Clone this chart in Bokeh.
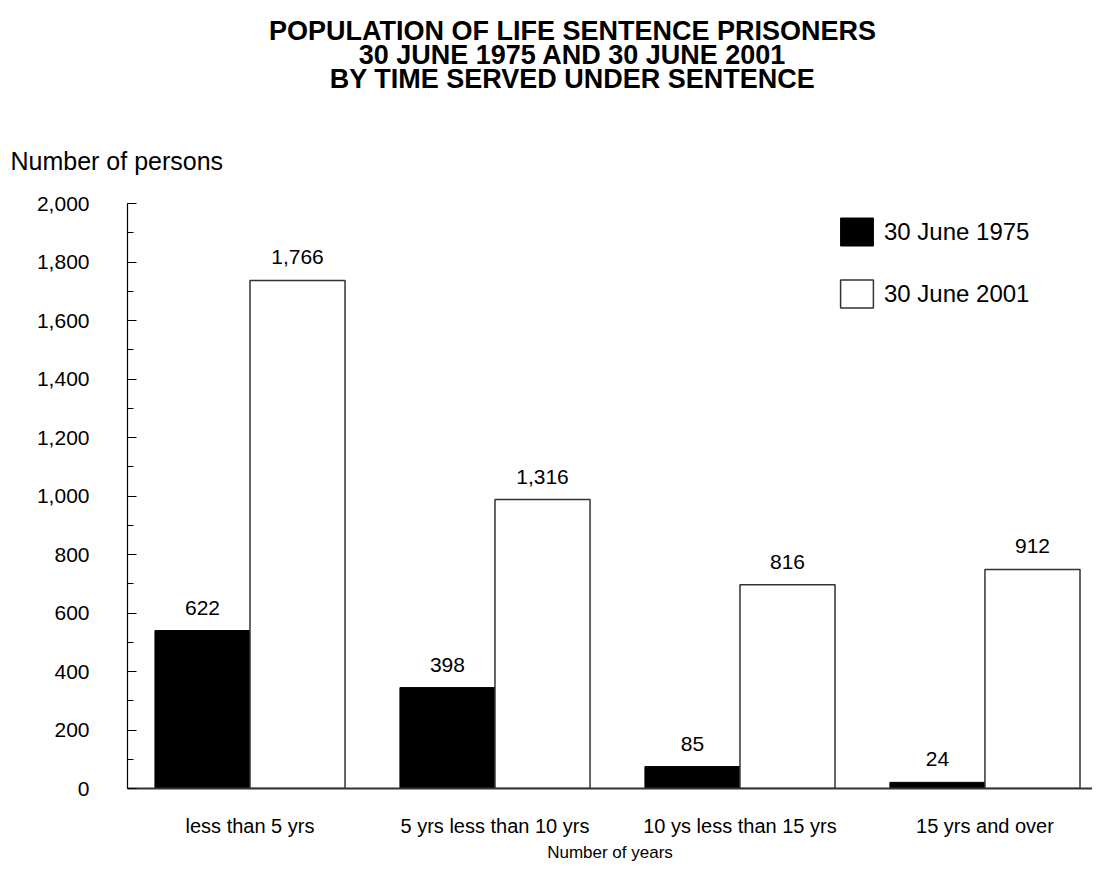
from bokeh.plotting import figure
from bokeh.layouts import column
from bokeh.models import (Range1d, SingleIntervalTicker, FixedTicker, NumeralTickFormatter,
                          Legend, LegendItem, ColumnDataSource)
from bokeh.core.properties import value
from bokeh.embed import file_html
from bokeh.resources import INLINE

# ---- data ----
categories = ["less than 5 yrs", "5 yrs less than 10 yrs", "10 ys less than 15 yrs", "15 yrs and over"]
series_names = ["30 June 1975", "30 June 2001"]
# bar heights as drawn in the picture (read against the axis)
heights_1975 = [540, 345, 75, 21]
heights_2001 = [1737, 988, 697, 749]
# values printed above the bars
labels_1975 = ["622", "398", "85", "24"]
labels_2001 = ["1,766", "1,316", "816", "912"]
title_lines = ["POPULATION OF LIFE SENTENCE PRISONERS",
               "30 JUNE 1975 AND 30 JUNE 2001",
               "BY TIME SERVED UNDER SENTENCE"]
y_title = "Number of persons"
x_title = "Number of years"

FONT = "Liberation Sans"
W = 1092
HEAD_H = 188
MAIN_H = 866 - HEAD_H

# ---- heading strip (title + y-axis caption), a figure whose frame is its pixel grid ----
head = figure(width=W, height=HEAD_H, output_backend="svg", toolbar_location=None,
              x_range=Range1d(0, W), y_range=Range1d(HEAD_H, 0),
              x_axis_type=None, y_axis_type=None, min_border=0)
head.frame_align = False
head.outline_line_color = None
head.background_fill_color = "white"
head.border_fill_color = "white"
head.text(x=[572] * 3, y=[30, 54, 78], text=title_lines, text_align="center",
          text_baseline="middle", text_font=value(FONT), text_font_size="27px",
          text_font_style="bold", text_color="black")
head.text(x=[10], y=[160], text=[y_title], text_align="left", text_baseline="middle",
          text_font=value(FONT), text_font_size="25px", text_color="black")

# ---- main chart ----
centers = [i + 0.5 for i in range(len(categories))]
bw = 0.388
x75 = [c - bw / 2 for c in centers]
x01 = [c + bw / 2 for c in centers]

src75 = ColumnDataSource(dict(x=x75, top=heights_1975, lab=labels_1975))
src01 = ColumnDataSource(dict(x=x01, top=heights_2001, lab=labels_2001))

p = figure(width=W, height=MAIN_H, output_backend="svg", toolbar_location=None,
           x_range=Range1d(0, 3.939), y_range=Range1d(0, 2000),
           min_border_left=127, min_border_right=0, min_border_top=15, min_border_bottom=78)
p.frame_align = False
p.outline_line_color = None
p.grid.grid_line_color = None
p.background_fill_color = "white"
p.border_fill_color = "white"

r1 = p.vbar(x="x", top="top", width=bw, source=src75, fill_color="black", line_color="black", line_width=1)
r2 = p.vbar(x="x", top="top", width=bw, source=src01, fill_color="white", line_color="#333333", line_width=1.5)

for s in (src75, src01):
    p.text(x="x", y="top", text="lab", source=s, y_offset=-23, text_align="center",
           text_baseline="middle", text_font=value(FONT), text_font_size="21px", text_color="black")

# y axis
ya = p.yaxis[0]
ya.ticker = SingleIntervalTicker(interval=200, num_minor_ticks=2)
ya.formatter = NumeralTickFormatter(format="0,0")
ya.major_tick_in = 9
ya.major_tick_out = 0
ya.minor_tick_in = 6
ya.minor_tick_out = 0
ya.major_label_standoff = 38
ya.major_label_text_font = FONT
ya.major_label_text_font_size = "21px"
ya.major_label_text_color = "black"
ya.axis_line_color = "black"
ya.axis_line_width = 1.2

# x axis
xa = p.xaxis[0]
xa.ticker = FixedTicker(ticks=centers)
xa.major_label_overrides = {c: name for c, name in zip(centers, categories)}
xa.major_tick_line_color = None
xa.minor_tick_line_color = None
xa.major_label_standoff = 20
xa.major_label_text_font = FONT
xa.major_label_text_font_size = "20px"
xa.major_label_text_color = "black"
xa.axis_line_color = "#333333"
xa.axis_line_width = 2
xa.axis_label = x_title
xa.axis_label_standoff = 3
xa.axis_label_text_font = FONT
xa.axis_label_text_font_size = "17px"
xa.axis_label_text_font_style = "normal"
xa.axis_label_text_color = "black"

legend = Legend(items=[LegendItem(label=series_names[0], renderers=[r1]),
                       LegendItem(label=series_names[1], renderers=[r2])],
                location=(709, 477), orientation="vertical",
                glyph_width=41, glyph_height=35, spacing=27, padding=0, margin=0,
                label_standoff=7, label_text_font=FONT, label_text_font_size="24px",
                label_text_color="black", border_line_color=None, background_fill_alpha=0)
p.add_layout(legend)

layout = column(head, p, spacing=0)
open("out.html", "w").write(file_html(layout, INLINE))
